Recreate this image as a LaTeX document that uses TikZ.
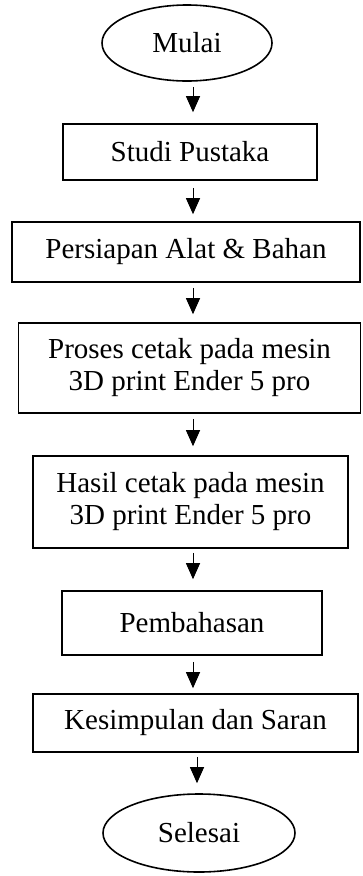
\documentclass[tikz,border=0pt]{standalone}
\usepackage{fontspec}
\setmainfont{Liberation Serif}
\usetikzlibrary{shapes.geometric,arrows.meta}
\begin{document}
\begin{tikzpicture}[x=1pt,y=-1pt,
  txt/.style={font=\fontsize{29}{32}\selectfont, align=center, inner sep=0pt},
  procbox/.style={txt, draw, line width=1.6pt, rectangle},
  termnode/.style={txt, draw, line width=1.6pt, ellipse},
  arr/.style={line width=1pt, -{Triangle[width=14pt,length=16pt]}}]
\useasboundingbox (0,0) rectangle (362,876);
\node[termnode, minimum width=170pt, minimum height=76pt] (mulai) at (187,43) {Mulai};
\node[procbox, minimum width=254pt, minimum height=56pt] (studi) at (190,152) {Studi Pustaka};
\node[procbox, minimum width=348pt, minimum height=60pt] (persiapan) at (186,252) {Persiapan Alat \& Bahan};
\node[procbox, minimum width=342pt, minimum height=90pt] (proses) at (189.5,368) {Proses cetak pada mesin\\3D print Ender 5 pro};
\node[procbox, minimum width=315pt, minimum height=92pt] (hasil) at (190.5,502) {Hasil cetak pada mesin\\3D print Ender 5 pro};
\node[procbox, minimum width=260pt, minimum height=64pt] (bahas) at (192,623) {Pembahasan};
\node[procbox, minimum width=325pt, minimum height=58pt] (simpul) at (195.5,723) {Kesimpulan dan Saran};
\node[termnode, minimum width=192pt, minimum height=78pt] (selesai) at (199,833) {Selesai};
\coordinate (ax) at (193,0);
\coordinate (bx) at (197,0);
\draw[arr, shorten <=5pt, shorten >=11pt] (mulai.south -| ax) -- (studi.north -| ax);
\draw[arr, shorten <=7pt, shorten >=7pt] (studi.south -| ax) -- (persiapan.north -| ax);
\draw[arr, shorten <=5pt, shorten >=8pt] (persiapan.south -| ax) -- (proses.north -| ax);
\draw[arr, shorten <=5pt, shorten >=9pt] (proses.south -| ax) -- (hasil.north -| ax);
\draw[arr, shorten <=4pt, shorten >=11pt] (hasil.south -| ax) -- (bahas.north -| ax);
\draw[arr, shorten <=6pt, shorten >=5pt] (bahas.south -| ax) -- (simpul.north -| ax);
\draw[arr, shorten <=4pt, shorten >=10pt] (simpul.south -| bx) -- (selesai.north -| bx);
\end{tikzpicture}
\end{document}
